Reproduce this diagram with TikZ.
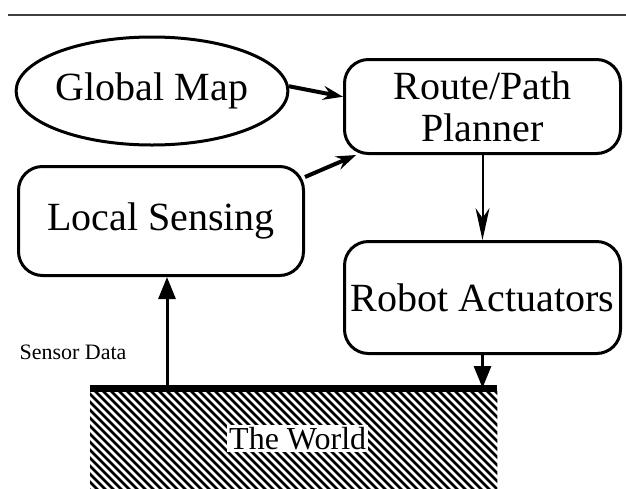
\documentclass[tikz,border=0pt]{standalone}
\usepackage{fontspec}
\setmainfont{Liberation Serif}
\usetikzlibrary{arrows.meta,shapes.geometric}

\begin{document}
\begin{tikzpicture}[x=1pt,y=-1pt,
	blok/.style={draw, line width=3pt, rounded corners=24pt, inner sep=0pt,
		align=center, font=\fontsize{40}{42}\selectfont},
	strelka/.style={line width=4pt, -{Stealth[length=20pt,width=14pt,inset=7pt]}},
	tonkaya/.style={line width=2pt, -{Stealth[length=32pt,width=14pt,inset=10pt]}},
	tolstaya/.style={line width=3pt, -{Triangle[length=22pt,width=17pt]}}]
	\useasboundingbox (0,0) rectangle (626,488);
	% Линия сверху
	\draw[line width=1.5pt, black!75] (8,15) -- (626,15);

	% Блоки
	\node[ellipse, draw, line width=3pt, minimum width=270pt, minimum height=108pt,
		inner sep=0pt, font=\fontsize{40}{42}\selectfont] (gmap) at (152,91) {Global Map};
	\node[blok, minimum width=276pt, minimum height=94pt] (planner) at (482.5,106.5)
		{Route/Path\\Planner};
	\node[blok, minimum width=285pt, minimum height=109pt] (local) at (161,221)
		{Local Sensing};
	\node[blok, minimum width=276pt, minimum height=112pt] (robot) at (482.5,297.5)
		{Robot Actuators};

	% Мир (штриховка)
	\node[anchor=north west, minimum width=407pt, minimum height=100pt, inner sep=0pt]
		(world) at (90,388) {};
	\begin{scope}
		\clip (world.north west) rectangle (world.south east);
		\foreach \i in {-20,-12,...,500}
			\draw[line width=2.8pt] (\i,388) -- ++(110,110);
	\end{scope}
	\draw[line width=7pt] (world.north west) -- (world.north east);
	\node[fill=white, inner sep=2pt, font=\fontsize{32}{34}\selectfont] (wtext)
		at ([xshift=4pt]world.center) {The World};

	% Стрелки
	\draw[strelka] (gmap.2) -- (planner.176);
	\draw[strelka] (local.17) -- (planner.201);
	\draw[tonkaya] (planner.south) -- (robot.north);
	\draw[tolstaya] (robot.south) -- (robot.south |- world.north);
	\coordinate (sens) at (167,388);
	\draw[tolstaya] (sens) -- (sens |- local.south);
	\node[font=\fontsize{22}{24}\selectfont] (sdata) at (73,352) {Sensor Data};
\end{tikzpicture}
\end{document}
